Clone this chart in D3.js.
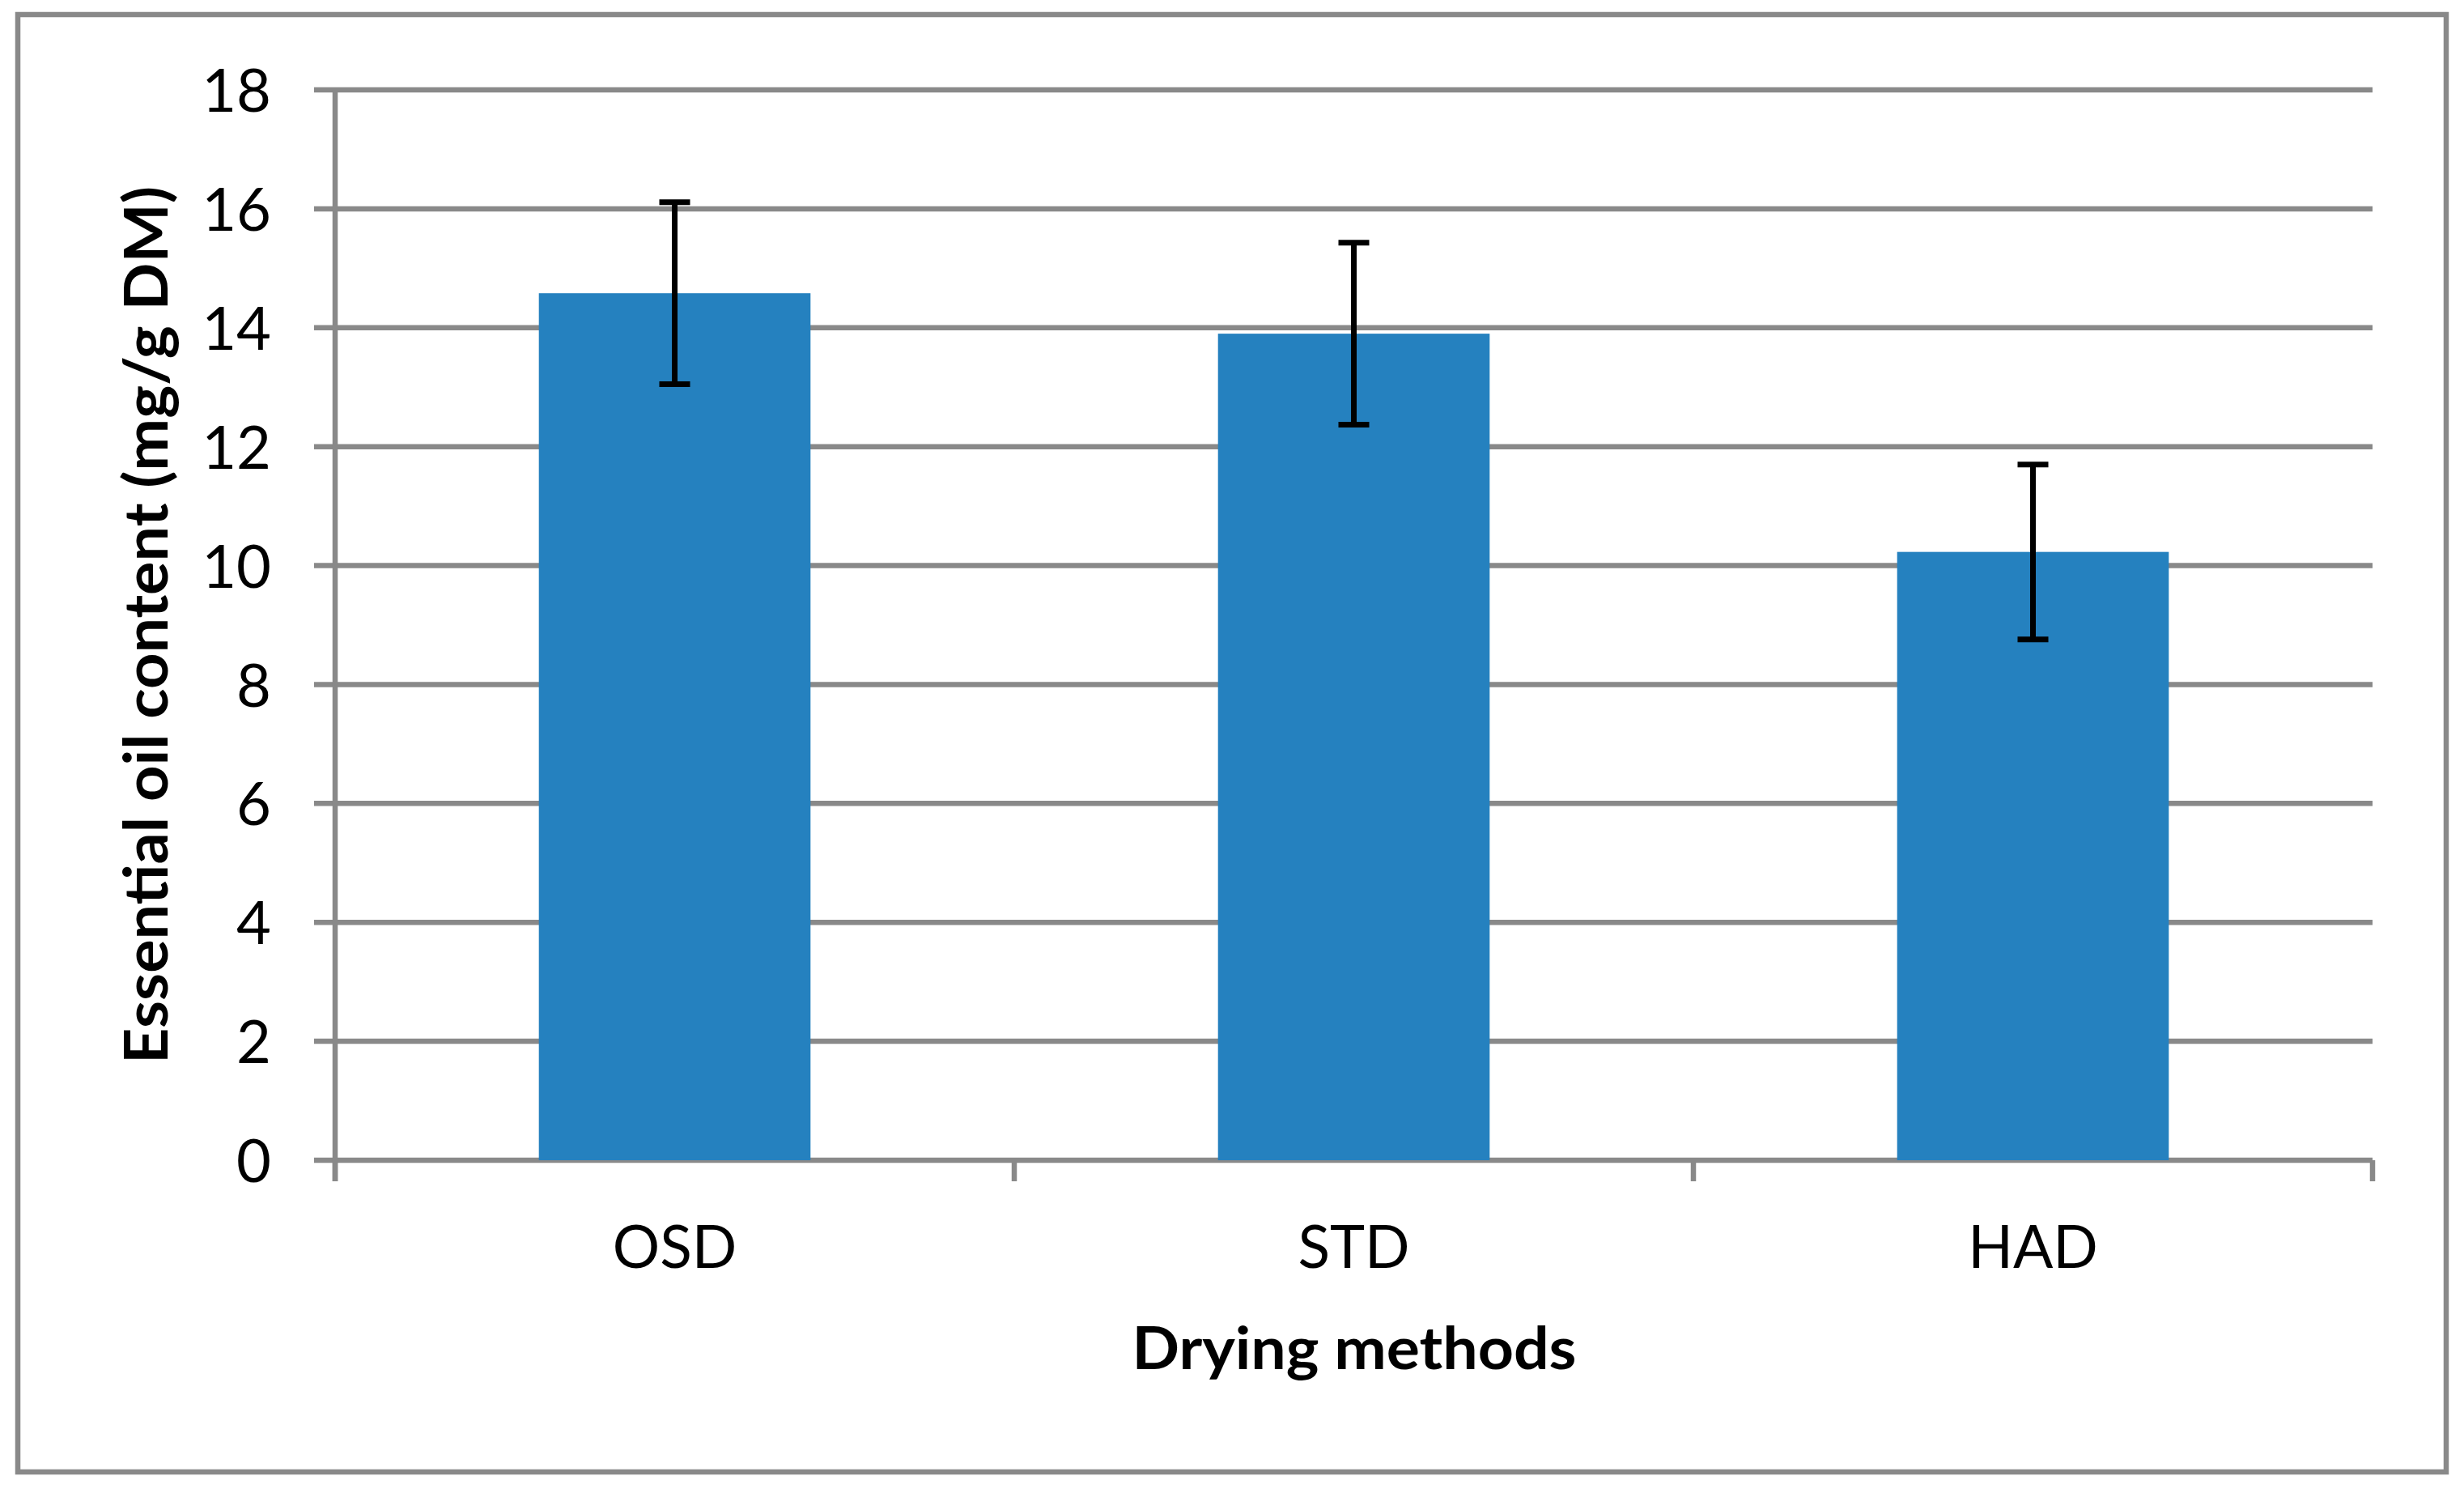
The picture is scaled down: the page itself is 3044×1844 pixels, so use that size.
<!DOCTYPE html>
<html>
<head>
<meta charset="utf-8">
<script src="https://cdn.jsdelivr.net/npm/d3@7"></script>
<style>
  body { margin: 0; background: #fff; }
  text { font-family: Lato, "Open Sans", sans-serif; fill: #000; }
</style>
</head>
<body>
<svg id="chart"></svg>
<script>
// Data
const METHODS = ['OSD', 'STD', 'HAD'];
const OIL_CONTENT = [14.58, 13.9, 10.23];
const ERRORS = [1.53, 1.53, 1.47];
const Y_TICKS = [0, 2, 4, 6, 8, 10, 12, 14, 16, 18];
const X_TITLE = 'Drying methods';
const Y_TITLE = 'Essential oil content (mg/g DM)';

// Layout
const W = 3044, H = 1844;
const plot = {left: 414, right: 2931, top: 111, bottom: 1433};
const grey = '#898989';
const lineW = 6.5;
const tickLen = 26;

const svg = d3.select('#chart')
  .attr('width', W)
  .attr('height', H);

// Scales
const x = d3.scaleBand()
  .domain(METHODS)
  .range([plot.left, plot.right])
  .padding(0);

const y = d3.scaleLinear()
  .domain([0, 18])
  .range([plot.bottom, plot.top]);

const barW = x.bandwidth() * 0.4;

// Outer chart border
svg.append('rect')
  .attr('x', 22)
  .attr('y', 18)
  .attr('width', 3000)
  .attr('height', 1800)
  .attr('fill', 'none')
  .attr('stroke', grey)
  .attr('stroke-width', lineW);

// Gridlines (the ticks to the left of the axis are part of them)
svg.append('g')
  .selectAll('line')
  .data(Y_TICKS).enter()
  .append('line')
    .attr('x1', plot.left - tickLen)
    .attr('x2', plot.right)
    .attr('y1', d => y(d))
    .attr('y2', d => y(d))
    .attr('stroke', grey)
    .attr('stroke-width', lineW);

// Y axis labels
const yAxis = svg.append('g')
  .attr('transform', `translate(${plot.left},0)`)
  .call(d3.axisLeft(y).tickValues(Y_TICKS).tickSize(0).tickPadding(79));
yAxis.select('.domain').remove();
yAxis.selectAll('text')
  .attr('font-size', 74)
  .attr('dy', '0.36em')
  .style('font-family', 'Lato, sans-serif');

// Y axis line, runs a bit under the zero line
svg.append('line')
  .attr('x1', plot.left).attr('x2', plot.left)
  .attr('y1', plot.top).attr('y2', plot.bottom + tickLen)
  .attr('stroke', grey)
  .attr('stroke-width', lineW);

// X axis: category boundaries get the ticks
const bounds = METHODS.map(d => x(d)).concat([plot.right]);
svg.append('g')
  .selectAll('line')
  .data(bounds).enter()
  .append('line')
    .attr('x1', d => d).attr('x2', d => d)
    .attr('y1', plot.bottom)
    .attr('y2', plot.bottom + tickLen)
    .attr('stroke', grey)
    .attr('stroke-width', lineW);

// Bars
svg.append('g')
  .selectAll('rect')
  .data(OIL_CONTENT).enter()
  .append('rect')
    .attr('x', (d, i) => x(METHODS[i]) + (x.bandwidth() - barW) / 2)
    .attr('y', d => y(d))
    .attr('width', barW)
    .attr('height', d => y(0) - y(d))
    .attr('fill', '#2581bf');

// Error bars
const errG = svg.append('g')
  .selectAll('g')
  .data(OIL_CONTENT).enter()
  .append('g')
  .attr('transform', (d, i) => `translate(${x(METHODS[i]) + x.bandwidth() / 2},0)`);

errG.append('line')
  .attr('y1', (d, i) => y(d + ERRORS[i]))
  .attr('y2', (d, i) => y(d - ERRORS[i]))
  .attr('stroke', '#000')
  .attr('stroke-width', 7);

errG.selectAll('.cap')
  .data((d, i) => [d + ERRORS[i], d - ERRORS[i]]).enter()
  .append('line')
    .attr('class', 'cap')
    .attr('x1', -19).attr('x2', 19)
    .attr('y1', d => y(d)).attr('y2', d => y(d))
    .attr('stroke', '#000')
    .attr('stroke-width', 7);

// Category labels
svg.append('g')
  .selectAll('text')
  .data(METHODS).enter()
  .append('text')
    .attr('x', d => x(d) + x.bandwidth() / 2)
    .attr('y', 1566)
    .attr('text-anchor', 'middle')
    .attr('font-size', 73)
    .text(d => d);

// Axis titles
svg.append('text')
  .attr('x', (plot.left + plot.right) / 2 + 0.5)
  .attr('y', 1691)
  .attr('text-anchor', 'middle')
  .attr('font-size', 72)
  .attr('font-weight', 'bold')
  .attr('textLength', 549)
  .attr('lengthAdjust', 'spacingAndGlyphs')
  .text(X_TITLE);

svg.append('text')
  .attr('transform', `translate(207,${(plot.top + plot.bottom) / 2}) rotate(-90)`)
  .attr('text-anchor', 'middle')
  .attr('font-size', 75)
  .attr('font-weight', 'bold')
  .attr('textLength', 1084)
  .attr('lengthAdjust', 'spacingAndGlyphs')
  .text(Y_TITLE);
</script>
</body>
</html>
